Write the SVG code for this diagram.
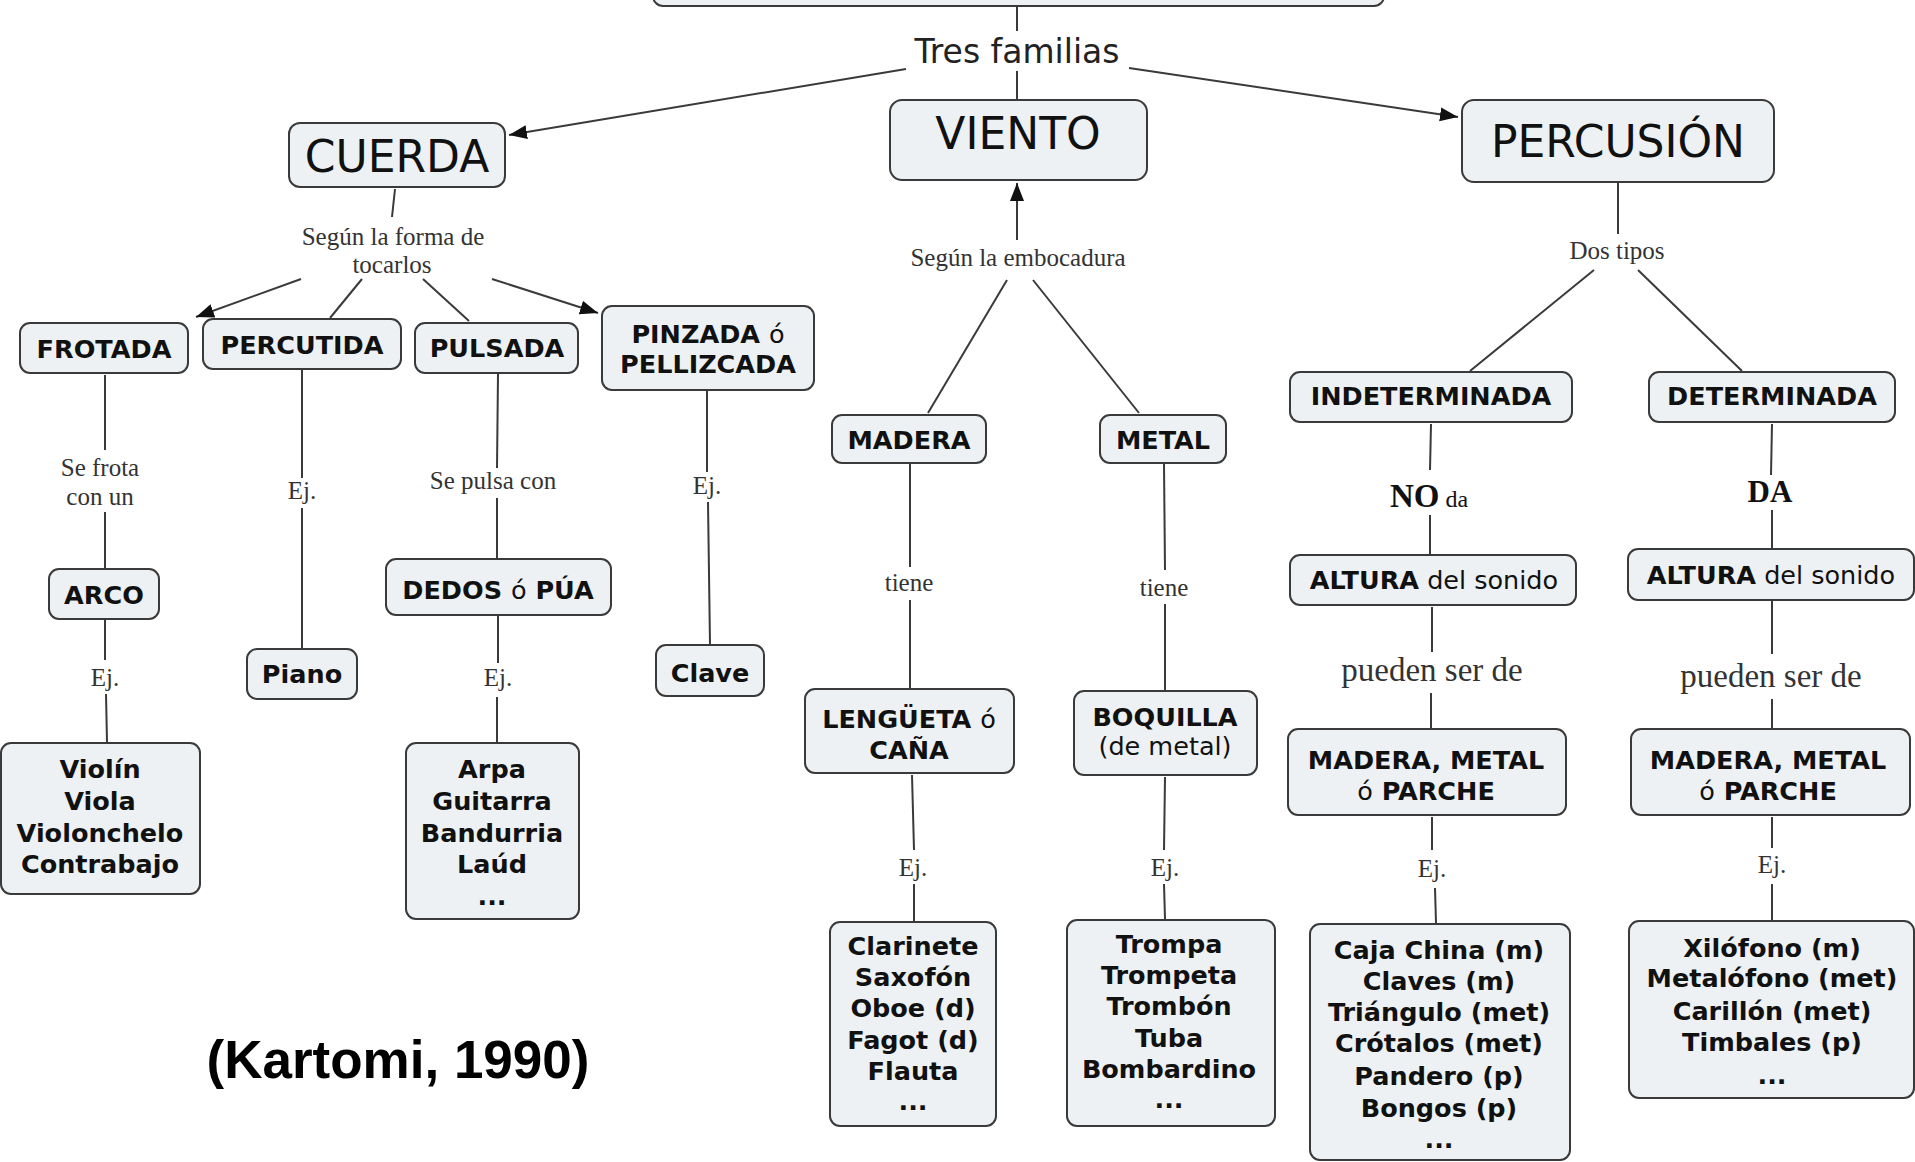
<svg xmlns="http://www.w3.org/2000/svg" width="1915" height="1162" viewBox="0 0 1915 1162">
<style>
.bg{fill:#ffffff}
.box{fill:#edf1f4;stroke:#3a3a3a;stroke-width:2}
.n{font-family:"DejaVu Sans",Verdana,sans-serif;font-weight:bold;font-size:25.5px;fill:#111;text-anchor:middle}
.r{font-weight:normal}
.big{font-family:"DejaVu Sans",Verdana,sans-serif;font-size:44px;fill:#111;text-anchor:middle}
.lbl{font-family:"Liberation Serif","Times New Roman",serif;font-size:25px;fill:#333;text-anchor:middle}
.c line{stroke:#3a3a3a;stroke-width:2;fill:none}
</style>
<defs>
<marker id="ah" markerUnits="userSpaceOnUse" markerWidth="20" markerHeight="16" refX="18" refY="7" orient="auto">
<path d="M0,0 L18,7 L0,14 z" fill="#111"/>
</marker>
</defs>
<rect class="bg" x="0" y="0" width="1915" height="1162"/>

<g id="connectors" class="c">
<line x1="1017" y1="6" x2="1017" y2="31"/>
<line x1="1017" y1="71" x2="1017" y2="100"/>
<line x1="906" y1="69" x2="509" y2="135" marker-end="url(#ah)"/>
<line x1="1129" y1="68" x2="1458" y2="117" marker-end="url(#ah)"/>
<line x1="395" y1="189" x2="392" y2="217"/>
<line x1="301" y1="279" x2="196" y2="317" marker-end="url(#ah)"/>
<line x1="362" y1="279" x2="330" y2="318"/>
<line x1="423" y1="279" x2="469" y2="321"/>
<line x1="492" y1="279" x2="598" y2="313" marker-end="url(#ah)"/>
<line x1="105" y1="375" x2="105" y2="450"/>
<line x1="105" y1="512" x2="105" y2="568"/>
<line x1="105" y1="620" x2="105" y2="660"/>
<line x1="106" y1="694" x2="107" y2="742"/>
<line x1="302" y1="370" x2="302" y2="478"/>
<line x1="302" y1="508" x2="302" y2="648"/>
<line x1="498" y1="374" x2="497" y2="468"/>
<line x1="497" y1="498" x2="497" y2="558"/>
<line x1="498" y1="616" x2="498" y2="663"/>
<line x1="497" y1="697" x2="497" y2="742"/>
<line x1="707" y1="390" x2="707" y2="472"/>
<line x1="708" y1="502" x2="710" y2="644"/>
<line x1="1017" y1="240" x2="1017" y2="183" marker-end="url(#ah)"/>
<line x1="1007" y1="280" x2="928" y2="413"/>
<line x1="1033" y1="280" x2="1139" y2="413"/>
<line x1="910" y1="464" x2="910" y2="567"/>
<line x1="910" y1="600" x2="910" y2="688"/>
<line x1="912" y1="775" x2="914" y2="850"/>
<line x1="914" y1="884" x2="914" y2="921"/>
<line x1="1164" y1="464" x2="1165" y2="570"/>
<line x1="1165" y1="604" x2="1165" y2="690"/>
<line x1="1165" y1="777" x2="1164" y2="850"/>
<line x1="1164" y1="884" x2="1165" y2="919"/>
<line x1="1618" y1="183" x2="1618" y2="234"/>
<line x1="1594" y1="270" x2="1470" y2="371"/>
<line x1="1638" y1="270" x2="1742" y2="371"/>
<line x1="1431" y1="424" x2="1430" y2="470"/>
<line x1="1430" y1="515" x2="1430" y2="554"/>
<line x1="1772" y1="424" x2="1771" y2="475"/>
<line x1="1772" y1="510" x2="1772" y2="548"/>
<line x1="1432" y1="607" x2="1432" y2="652"/>
<line x1="1431" y1="693" x2="1431" y2="728"/>
<line x1="1772" y1="601" x2="1772" y2="654"/>
<line x1="1772" y1="699" x2="1772" y2="728"/>
<line x1="1432" y1="817" x2="1432" y2="850"/>
<line x1="1435" y1="888" x2="1436" y2="923"/>
<line x1="1772" y1="817" x2="1772" y2="848"/>
<line x1="1772" y1="884" x2="1772" y2="920"/>
</g>

<g id="labels">
<text class="big" x="1017" y="63" style="font-size:33px;fill:#222">Tres familias</text>
<text class="lbl" x="393" y="245">Según la forma de</text>
<text class="lbl" x="392" y="273">tocarlos</text>
<text class="lbl" x="100" y="476">Se frota</text>
<text class="lbl" x="100" y="505">con un</text>
<text class="lbl" x="105" y="686">Ej.</text>
<text class="lbl" x="302" y="499">Ej.</text>
<text class="lbl" x="493" y="489">Se pulsa con</text>
<text class="lbl" x="498" y="686">Ej.</text>
<text class="lbl" x="707" y="494">Ej.</text>
<text class="lbl" x="1018" y="266">Según la embocadura</text>
<text class="lbl" x="909" y="591">tiene</text>
<text class="lbl" x="1164" y="596">tiene</text>
<text class="lbl" x="913" y="876">Ej.</text>
<text class="lbl" x="1165" y="876">Ej.</text>
<text class="lbl" x="1617" y="259">Dos tipos</text>
<text class="lbl" x="1390" y="507" style="text-anchor:start;fill:#111"><tspan style="font-weight:bold;font-size:33px">NO</tspan><tspan style="font-size:24px"> da</tspan></text>
<text class="lbl" x="1770" y="502" style="font-weight:bold;font-size:31px;fill:#111">DA</text>
<text class="lbl" x="1432" y="681" style="font-size:33px">pueden ser de</text>
<text class="lbl" x="1771" y="687" style="font-size:33px">pueden ser de</text>
<text class="lbl" x="1432" y="877">Ej.</text>
<text class="lbl" x="1772" y="873">Ej.</text>
<text x="398" y="1078" style="font-family:'Liberation Sans',Arial,sans-serif;font-weight:bold;font-size:53px;fill:#000;text-anchor:middle">(Kartomi, 1990)</text>
</g>

<g id="node-top"><rect class="box" x="653" y="-40" width="731" height="46" rx="10"/></g>
<g id="node-cuerda"><rect class="box" x="289" y="123" width="216" height="64" rx="11"/><text class="big" x="397" y="172">CUERDA</text></g>
<g id="node-viento"><rect class="box" x="890" y="100" width="257" height="80" rx="12"/><text class="big" x="1018" y="149">VIENTO</text></g>
<g id="node-percusion"><rect class="box" x="1462" y="100" width="312" height="82" rx="12"/><text class="big" x="1618" y="157">PERCUSIÓN</text></g>

<g id="node-frotada"><rect class="box" x="20" y="323" width="168" height="50" rx="10"/><text class="n" x="104" y="358">FROTADA</text></g>
<g id="node-percutida"><rect class="box" x="203" y="319" width="198" height="50" rx="10"/><text class="n" x="302" y="354">PERCUTIDA</text></g>
<g id="node-pulsada"><rect class="box" x="415" y="323" width="163" height="50" rx="10"/><text class="n" x="497" y="357">PULSADA</text></g>
<g id="node-pinzada"><rect class="box" x="602" y="306" width="212" height="84" rx="10"/><text class="n" x="708" y="343">PINZADA <tspan class="r">ó</tspan></text><text class="n" x="708" y="373">PELLIZCADA</text></g>

<g id="node-arco"><rect class="box" x="49" y="569" width="110" height="50" rx="10"/><text class="n" x="104" y="604">ARCO</text></g>
<g id="node-piano"><rect class="box" x="247" y="649" width="110" height="50" rx="10"/><text class="n" x="302" y="683">Piano</text></g>
<g id="node-dedos"><rect class="box" x="386" y="559" width="225" height="56" rx="10"/><text class="n" x="498" y="599">DEDOS <tspan class="r">ó</tspan> PÚA</text></g>
<g id="node-clave"><rect class="box" x="656" y="645" width="108" height="51" rx="10"/><text class="n" x="710" y="682">Clave</text></g>

<g id="node-violin"><rect class="box" x="1" y="743" width="199" height="151" rx="10"/>
<text class="n" x="100" y="778">Violín</text><text class="n" x="100" y="810">Viola</text><text class="n" x="100" y="842">Violonchelo</text><text class="n" x="100" y="873">Contrabajo</text></g>
<g id="node-arpa"><rect class="box" x="406" y="743" width="173" height="176" rx="10"/>
<text class="n" x="492" y="778">Arpa</text><text class="n" x="492" y="810">Guitarra</text><text class="n" x="492" y="842">Bandurria</text><text class="n" x="492" y="873">Laúd</text><text class="n" x="492" y="905">...</text></g>

<g id="node-madera"><rect class="box" x="832" y="415" width="154" height="48" rx="10"/><text class="n" x="909" y="449">MADERA</text></g>
<g id="node-metal"><rect class="box" x="1100" y="415" width="126" height="48" rx="10"/><text class="n" x="1163" y="449">METAL</text></g>
<g id="node-lengueta"><rect class="box" x="805" y="689" width="209" height="84" rx="10"/><text class="n" x="909" y="728">LENGÜETA <tspan class="r">ó</tspan></text><text class="n" x="909" y="759">CAÑA</text></g>
<g id="node-boquilla"><rect class="box" x="1074" y="691" width="183" height="84" rx="10"/><text class="n" x="1165" y="726">BOQUILLA</text><text class="n r" x="1165" y="755">(de metal)</text></g>
<g id="node-clarinete"><rect class="box" x="830" y="922" width="166" height="204" rx="10"/>
<text class="n" x="913" y="955">Clarinete</text><text class="n" x="913" y="986">Saxofón</text><text class="n" x="913" y="1017">Oboe (d)</text><text class="n" x="913" y="1049">Fagot (d)</text><text class="n" x="913" y="1080">Flauta</text><text class="n" x="913" y="1110">...</text></g>
<g id="node-trompa"><rect class="box" x="1067" y="920" width="208" height="206" rx="10"/>
<text class="n" x="1169" y="953">Trompa</text><text class="n" x="1169" y="984">Trompeta</text><text class="n" x="1169" y="1015">Trombón</text><text class="n" x="1169" y="1047">Tuba</text><text class="n" x="1169" y="1078">Bombardino</text><text class="n" x="1169" y="1108">...</text></g>

<g id="node-indeterminada"><rect class="box" x="1290" y="372" width="282" height="50" rx="10"/><text class="n" x="1431" y="405">INDETERMINADA</text></g>
<g id="node-determinada"><rect class="box" x="1649" y="372" width="246" height="50" rx="10"/><text class="n" x="1772" y="405">DETERMINADA</text></g>
<g id="node-altura-l"><rect class="box" x="1290" y="555" width="286" height="50" rx="10"/><text class="n" x="1434" y="589">ALTURA<tspan class="r"> del sonido</tspan></text></g>
<g id="node-altura-r"><rect class="box" x="1628" y="549" width="286" height="51" rx="10"/><text class="n" x="1771" y="584">ALTURA<tspan class="r"> del sonido</tspan></text></g>
<g id="node-material-l"><rect class="box" x="1288" y="729" width="278" height="86" rx="10"/><text class="n" x="1426" y="769">MADERA, METAL</text><text class="n" x="1426" y="800"><tspan class="r">ó</tspan> PARCHE</text></g>
<g id="node-material-r"><rect class="box" x="1631" y="729" width="279" height="86" rx="10"/><text class="n" x="1768" y="769">MADERA, METAL</text><text class="n" x="1768" y="800"><tspan class="r">ó</tspan> PARCHE</text></g>
<g id="node-ej-indet"><rect class="box" x="1310" y="924" width="260" height="236" rx="10"/>
<text class="n" x="1439" y="959">Caja China (m)</text><text class="n" x="1439" y="990">Claves (m)</text><text class="n" x="1439" y="1021">Triángulo (met)</text><text class="n" x="1439" y="1052">Crótalos (met)</text><text class="n" x="1439" y="1085">Pandero (p)</text><text class="n" x="1439" y="1117">Bongos (p)</text><text class="n" x="1439" y="1148">...</text></g>
<g id="node-ej-det"><rect class="box" x="1629" y="921" width="285" height="177" rx="10"/>
<text class="n" x="1772" y="957">Xilófono (m)</text><text class="n" x="1772" y="987">Metalófono (met)</text><text class="n" x="1772" y="1020">Carillón (met)</text><text class="n" x="1772" y="1051">Timbales (p)</text><text class="n" x="1772" y="1084">...</text></g>
</svg>
